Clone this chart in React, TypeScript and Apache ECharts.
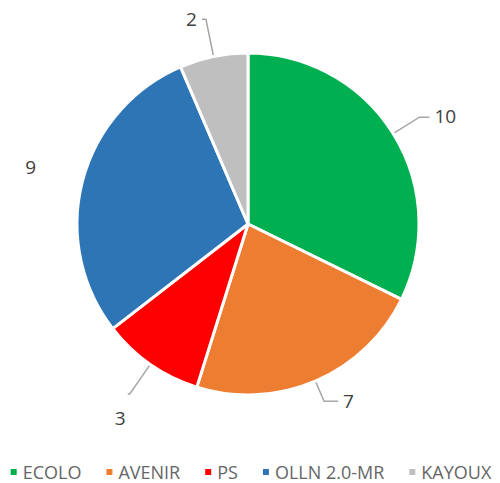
import React, { useEffect, useRef } from "react";
import * as echarts from "echarts";

const categories = ["ECOLO", "AVENIR", "PS", "OLLN 2.0-MR", "KAYOUX"];
const values = [10, 7, 3, 9, 2];
const colors = ["#00B050", "#ED7D31", "#FF0000", "#2E75B6", "#BFBFBF"];

export default function App() {
  const ref = useRef<HTMLDivElement>(null);
  useEffect(() => {
    document.body.style.margin = "0";
    const chart = echarts.init(ref.current!, null, { renderer: "svg" });
    const lineLens: [number, number, boolean][] = [
      [31, 10, true],
      [22, 14, true],
      [36, 2, true],
      [20, 22, false],
      [38, 4, true],
    ];
    const labelShift: [number, number][] = [
      [0, -1],
      [0, 0],
      [3, 24],
      [0, -9],
      [0, 0],
    ];
    chart.setOption({
      animation: false,
      legend: {
        bottom: 2,
        left: "center",
        padding: 0,
        icon: "rect",
        itemWidth: 8,
        itemHeight: 8,
        itemGap: 23,
        textStyle: {
          fontFamily: "Open Sans",
          fontSize: 18,
          lineHeight: 18,
          color: "#666666",
        },
        data: categories,
      },
      series: [
        {
          type: "pie",
          center: [248, 224],
          radius: [0, 171],
          startAngle: 90,
          clockwise: true,
          avoidLabelOverlap: false,
          itemStyle: { borderColor: "#fff", borderWidth: 3 },
          label: {
            show: true,
            position: "outside",
            formatter: "{c}",
            fontFamily: "Open Sans",
            fontSize: 19,
            color: "#404040",
          },
          labelLine: { lineStyle: { color: "#A6A6A6", width: 1.5 } },
          labelLayout: (p: any) => ({
            dx: labelShift[p.dataIndex][0],
            dy: labelShift[p.dataIndex][1],
          }),
          data: categories.map((name, i) => ({
            name,
            value: values[i],
            itemStyle: { color: colors[i] },
            labelLine: {
              show: lineLens[i][2],
              length: lineLens[i][0],
              length2: lineLens[i][1],
            },
          })),
        },
      ],
    });
    return () => chart.dispose();
  }, []);
  return <div ref={ref} style={{ width: 500, height: 483 }} />;
}
